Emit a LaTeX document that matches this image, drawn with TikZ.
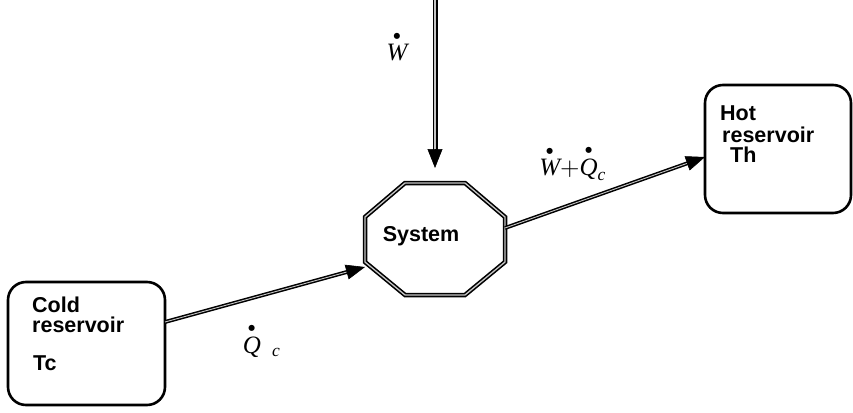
\documentclass[tikz,border=0pt]{standalone}
\usepackage{amsmath}
\usepackage{fontspec}
\setmainfont{Liberation Sans}
\newfontfamily\tmsfont{Liberation Serif}
\usetikzlibrary{arrows.meta,calc}
\newcommand{\tv}[1]{\text{\tmsfont\itshape #1}}
\begin{document}
\begin{tikzpicture}[x=1pt,y=-1pt,
  box/.style={draw, line width=2.6pt, rounded corners=18pt, inner sep=0pt},
  lbl/.style={font=\fontsize{21.5}{24}\selectfont\bfseries, anchor=base west, inner sep=0pt},
  mth/.style={scale=2.5, inner sep=0pt},
  dline/.style={line width=1.5pt, double=gray!45, double distance=0.9pt},
  tipar/.style={-{Triangle[length=19pt,width=15pt]}, line width=0.6pt}]
\useasboundingbox[fill=white] (0,0) rectangle (853,412);

% reservoirs
\node[box, minimum width=157pt, minimum height=123pt] (cold) at (86.5,343.5) {};
\node[box, minimum width=146pt, minimum height=128pt] (hot) at (778,149) {};

\node[lbl] (cold1) at (32,312) {Cold};
\node[lbl] (cold2) at (32,332) {reservoir};
\node[lbl] (cold3) at (33,370) {Tc};
\node[lbl] (hot1) at (720,120) {Hot};
\node[lbl] (hot2) at (722,142) {reservoir};
\node[lbl] (hot3) at (730,162) {Th};

% system octagon
\coordinate (o1) at (405,183);
\coordinate (o2) at (465,183);
\coordinate (o3) at (505,217);
\coordinate (o4) at (505,262);
\coordinate (o5) at (465,295);
\coordinate (o6) at (405,295);
\coordinate (o7) at (365,262);
\coordinate (o8) at (365,217);
\draw[dline, line width=1.6pt, double distance=1.3pt] (o1) -- (o2) -- (o3) -- (o4) -- (o5) -- (o6) -- (o7) -- (o8) -- cycle;
\node[lbl, anchor=center] (sys) at (421,236) {System};

% work arrow
\coordinate (wtop) at (435,0);
\coordinate (wtip) at (435,168);
\draw[dline, line width=1.7pt, double distance=1.6pt, shorten >=10pt] (wtop) -- (wtip);
\draw[tipar] ($(wtip)!19pt!(wtop)$) -- (wtip);

% cold -> system
\coordinate (c1) at (165,322);
\coordinate (c2) at (365,267);
\draw[dline, shorten >=10pt] (c1) -- (c2);
\draw[tipar] ($(c2)!19pt!(c1)$) -- (c2);

% system -> hot
\coordinate (h1) at (505,228);
\coordinate (h2) at (705,157);
\draw[dline, shorten >=10pt] (h1) -- (h2);
\draw[tipar] ($(h2)!19pt!(h1)$) -- (h2);

% labels
\node[mth] (wl) at (397,46) {$\overset{\scriptscriptstyle\bullet}{\tv{W}}$};
\node[mth] (ql) at (262,340) {$\overset{\scriptscriptstyle\bullet}{\tv{Q}}{}_{\;\;\tv{c}}$};
\node[mth] (sl) at (573,163) {$\overset{\scriptscriptstyle\bullet}{\tv{W}}{+}\overset{\scriptscriptstyle\bullet}{\tv{Q}}_{\tv{c}}$};
\end{tikzpicture}
\end{document}
